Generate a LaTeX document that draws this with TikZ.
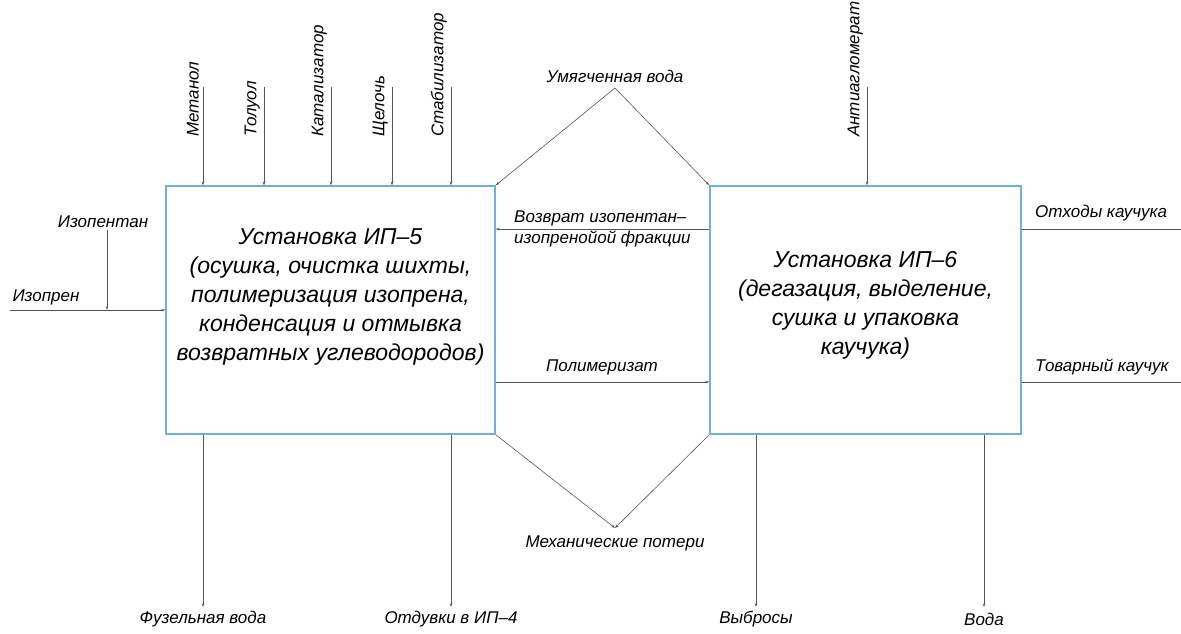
\documentclass[tikz,border=0pt]{standalone}
\usepackage{fontspec}
\setmainfont{Liberation Sans}
\usetikzlibrary{positioning, arrows.meta}

\definecolor{boxblue}{RGB}{110,175,220}
\definecolor{flowgray}{RGB}{85,85,85}

\begin{document}
\begin{tikzpicture}[
    x=1pt, y=-1pt,
    unit/.style={draw=boxblue, line width=1.4pt, minimum width=#1, minimum height=248pt, inner sep=0pt},
    unittext/.style={align=center, inner sep=0pt, font=\fontsize{23}{29}\selectfont\itshape},
    lbl/.style={inner sep=0pt, font=\fontsize{17}{21}\selectfont\itshape},
    vlabel/.style={lbl, rotate=90, anchor=south west},
    flow/.style={draw=flowgray, line width=0.6pt, -{Stealth[length=4pt, width=2.6pt]}},
    plain/.style={draw=flowgray, line width=0.6pt}
]
\useasboundingbox (0,0) rectangle (1181,633);

% installations
\node[unit=329pt] (ip5) at (330.5,310) {};
\node[unit=311pt] (ip6) at (865.5,310) {};
\node[unittext] (ip5txt) at ([yshift=13pt]ip5.center) {Установка ИП–5\\(осушка, очистка шихты,\\полимеризация изопрена,\\конденсация и отмывка\\возвратных углеводородов)};
\node[unittext] (ip6txt) at ([yshift=5pt]ip6.center) {Установка ИП–6\\(дегазация, выделение,\\сушка и упаковка\\каучука)};

% inputs from the top
\coordinate (in-metanol) at (203,87);
\coordinate (in-toluene) at (264,87);
\coordinate (in-catalyst) at (331,87);
\coordinate (in-alkali) at (392,87);
\coordinate (in-stabil) at (451,87);
\coordinate (in-antiagglo) at (867,87);
\node[vlabel] (l-metanol) at (199,137) {Метанол};
\node[vlabel] (l-toluene) at (260,137) {Толуол};
\node[vlabel] (l-catalyst) at (327,137) {Катализатор};
\node[vlabel] (l-alkali) at (388,137) {Щелочь};
\node[vlabel] (l-stabil) at (447,137) {Стабилизатор};
\node[vlabel] (l-antiagglo) at (863,137) {Антиагломерат};
\draw[flow] (in-metanol) -- (in-metanol |- ip5.north);
\draw[flow] (in-toluene) -- (in-toluene |- ip5.north);
\draw[flow] (in-catalyst) -- (in-catalyst |- ip5.north);
\draw[flow] (in-alkali) -- (in-alkali |- ip5.north);
\draw[flow] (in-stabil) -- (in-stabil |- ip5.north);
\draw[flow] (in-antiagglo) -- (in-antiagglo |- ip6.north);

% inputs from the left
\coordinate (in-isoprene) at (10,310);
\coordinate (in-isopentane) at (107,230);
\node[lbl] (l-isopentane) at (103,222) {Изопентан};
\node[lbl] (l-isoprene) at (46,297) {Изопрен};
\draw[flow] (in-isoprene) -- (in-isoprene -| ip5.west);
\draw[flow] (in-isopentane) -- (in-isopentane |- in-isoprene);

% softened water
\coordinate (soft) at (615,88);
\node[lbl] (l-soft) at (615,76) {Умягченная вода};
\draw[flow] (soft) -- (ip5.north east);
\draw[flow] (soft) -- (ip6.north west);

% links between the units
\draw[flow] ([yshift=81pt]ip6.west) -- ([yshift=81pt]ip5.east);
\node[lbl, anchor=west, align=left] (l-return) at (514,229) {Возврат изопентан–\\изопренойой фракции};
\draw[flow] ([yshift=-72pt]ip5.east) -- ([yshift=-72pt]ip6.west);
\node[lbl] (l-polymer) at (602,367) {Полимеризат};

% outputs to the right
\coordinate (out-waste) at (1181,229);
\coordinate (out-rubber) at (1181,382);
\draw[plain] ([yshift=81pt]ip6.east) -- (out-waste);
\draw[plain] ([yshift=-72pt]ip6.east) -- (out-rubber);
\node[lbl, anchor=west] (l-waste) at (1035,213) {Отходы каучука};
\node[lbl, anchor=west] (l-rubber) at (1035,367) {Товарный каучук};

% mechanical losses
\coordinate (loss) at (615,528);
\draw[flow] (ip5.south east) -- (loss);
\draw[flow] (ip6.south west) -- (loss);
\node[lbl] (l-loss) at (615,543) {Механические потери};

% outputs to the bottom
\coordinate (out-fusel) at (203,607);
\coordinate (out-blow) at (451,607);
\coordinate (out-emis) at (756,607);
\coordinate (out-water) at (984,607);
\draw[flow] (ip5.south -| out-fusel) -- (out-fusel);
\draw[flow] (ip5.south -| out-blow) -- (out-blow);
\draw[flow] (ip6.south -| out-emis) -- (out-emis);
\draw[flow] (ip6.south -| out-water) -- (out-water);
\node[lbl] (l-fusel) at (203,619) {Фузельная вода};
\node[lbl] (l-blow) at (451,619) {Отдувки в ИП–4};
\node[lbl] (l-emis) at (756,619) {Выбросы};
\node[lbl] (l-water) at (984,619) {Вода};
\end{tikzpicture}
\end{document}
